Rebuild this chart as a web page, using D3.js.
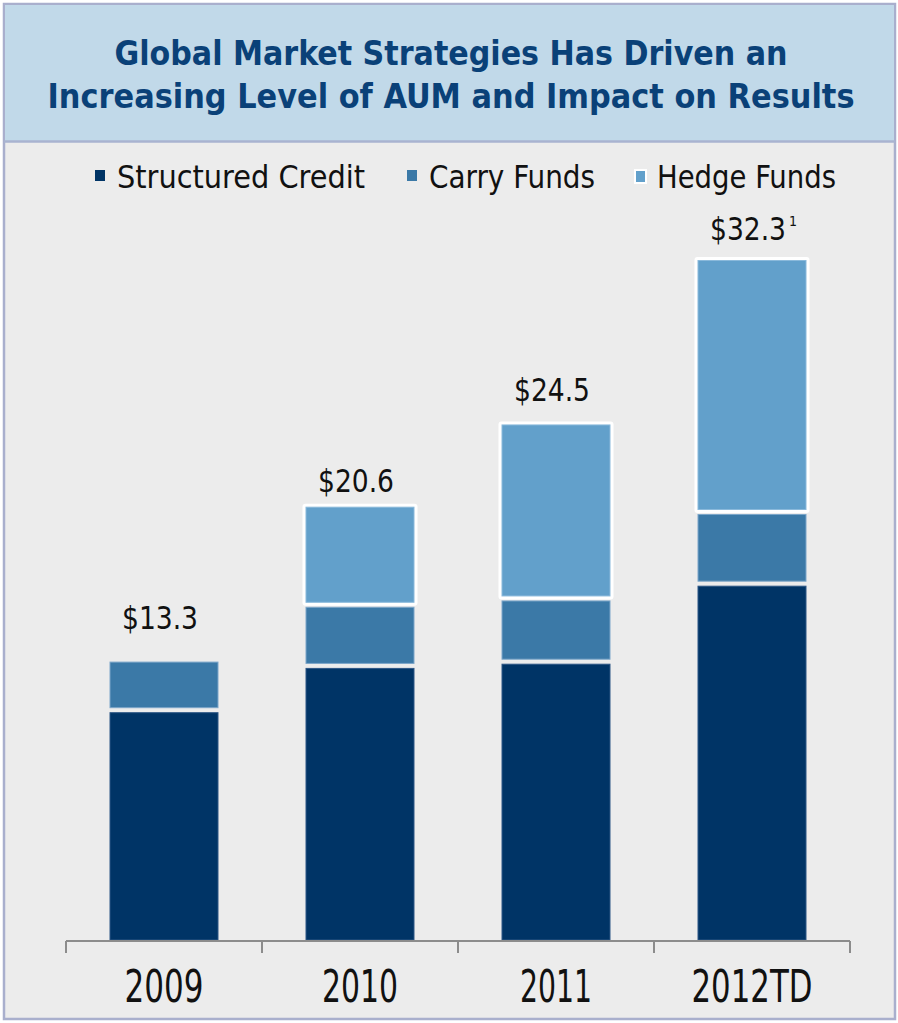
<!DOCTYPE html>
<html>
<head>
<meta charset="utf-8">
<script src="https://cdn.jsdelivr.net/npm/d3@7"></script>
<style>
  body { margin: 0; background: #ffffff; }
  svg { display: block; }
</style>
</head>
<body>
<div id="chart"></div>
<script>
// chart data
var years = ['2009', '2010', '2011', '2012TD'];
var seriesNames = ['Structured Credit', 'Carry Funds', 'Hedge Funds'];
var structuredCredit = [10.9, 13.0, 13.2, 16.9];
var carryFunds = [2.4, 2.9, 3.0, 3.4];
var hedgeFunds = [0, 4.7, 8.3, 12.0];
var totals = [13.3, 20.6, 24.5, 32.3];
var footnotes = ['', '', '', '1'];
var titleLines = [
  'Global Market Strategies Has Driven an',
  'Increasing Level of AUM and Impact on Results'
];

// layout
var svgWidth = 898;
var svgHeight = 1023;
var colors = ['#003466', '#3b79a7', '#62a0cb'];
var labelLift = [31, 14, 22, 19];
var yearWidths = [79, 76, 72, 121];
var barWidth = 108;

var svg = d3.select('#chart')
  .append('svg')
  .attr('width', svgWidth)
  .attr('height', svgHeight);

// panel + title box
svg.append('rect')
  .attr('x', 4).attr('y', 4)
  .attr('width', 891).attr('height', 1015)
  .attr('fill', '#ececec')
  .attr('stroke', '#a9afcd')
  .attr('stroke-width', 2.5);

svg.append('rect')
  .attr('x', 5).attr('y', 5)
  .attr('width', 889).attr('height', 136)
  .attr('fill', '#c1d9e9');

svg.append('line')
  .attr('x1', 4).attr('x2', 895)
  .attr('y1', 141.5).attr('y2', 141.5)
  .attr('stroke', '#a9b3d0')
  .attr('stroke-width', 2.5);

var titleWidths = [673, 807];
svg.selectAll('.title')
  .data(titleLines)
  .enter()
  .append('text')
  .attr('class', 'title')
  .attr('x', 451)
  .attr('y', (d, i) => 65 + i * 43)
  .attr('text-anchor', 'middle')
  .attr('textLength', (d, i) => titleWidths[i])
  .attr('lengthAdjust', 'spacingAndGlyphs')
  .style('font-family', '"DejaVu Sans Condensed", "DejaVu Sans", sans-serif')
  .style('font-weight', 'bold')
  .style('font-size', '34px')
  .style('fill', '#0a4178')
  .text(d => d);

// legend
var legendX = [95, 407, 635];
var legendW = [248, 166, 179];
var legend = svg.selectAll('.legend')
  .data(seriesNames)
  .enter()
  .append('g')
  .attr('class', 'legend')
  .attr('transform', (d, i) => `translate(${legendX[i]}, 176)`);

legend.append('rect')
  .attr('x', 0).attr('y', -6)
  .attr('width', (d, i) => i === 2 ? 11 : 10)
  .attr('height', (d, i) => i === 2 ? 13 : 11)
  .attr('fill', (d, i) => colors[i])
  .attr('stroke', (d, i) => i === 2 ? '#ffffff' : 'none')
  .attr('stroke-width', 2);

legend.append('text')
  .attr('x', 22)
  .attr('y', 12)
  .attr('textLength', (d, i) => legendW[i])
  .attr('lengthAdjust', 'spacingAndGlyphs')
  .style('font-family', '"DejaVu Sans Condensed", "DejaVu Sans", sans-serif')
  .style('font-size', '32px')
  .style('fill', '#111111')
  .text(d => d);

// scales
var x = d3.scaleBand()
  .domain(years)
  .range([66, 850])
  .padding(0);

var y = d3.scaleLinear()
  .domain([0, 32.3])
  .range([940, 259]);

// stacked data
var table = years.map(function (yr, i) {
  return {
    year: yr,
    sc: structuredCredit[i],
    cf: carryFunds[i],
    hf: hedgeFunds[i]
  };
});
var stack = d3.stack().keys(['sc', 'cf', 'hf']);
var layers = stack(table);

var barX = d => x(d.data.year) + (x.bandwidth() - barWidth) / 2;

layers.forEach(function (layer, li) {
  var segs = layer.filter(d => d[1] - d[0] > 0);
  var top = d => y(d[1]) + (li === 2 ? 1.5 : 2.5);
  var bottom = d => y(d[0]) - (li === 0 ? 0 : 2.5);

  if (li === 2) {
    // white frame round hedge fund blocks
    svg.selectAll('.hfback')
      .data(segs)
      .enter()
      .append('rect')
      .attr('class', 'hfback')
      .attr('x', d => barX(d) - 3.5)
      .attr('y', d => top(d) - 3.5)
      .attr('width', barWidth + 7)
      .attr('height', d => bottom(d) - top(d) + 7)
      .attr('rx', 3)
      .attr('fill', '#ffffff');
  }

  svg.selectAll('.seg' + li)
    .data(segs)
    .enter()
    .append('rect')
    .attr('class', 'seg' + li)
    .attr('x', d => barX(d))
    .attr('y', d => top(d))
    .attr('width', barWidth)
    .attr('height', d => bottom(d) - top(d))
    .attr('fill', colors[li])
    .attr('stroke', li === 0 ? '#2d5685' : (li === 1 ? '#7ca6c9' : '#8ab9db'))
    .attr('stroke-width', 1);
});

// total labels (superscript footnote kept in the same text)
var labels = svg.selectAll('.total')
  .data(totals)
  .enter()
  .append('text')
  .attr('class', 'total')
  .attr('x', (d, i) => x(years[i]) + x.bandwidth() / 2 - 42)
  .attr('y', (d, i) => y(d) - labelLift[i])
  .style('font-family', '"DejaVu Sans Condensed", "DejaVu Sans", sans-serif')
  .style('fill', '#111111');

labels.append('tspan')
  .attr('textLength', 76)
  .attr('lengthAdjust', 'spacingAndGlyphs')
  .style('font-size', '32px')
  .text(d => '$' + d.toFixed(1));

labels.append('tspan')
  .attr('dx', 3)
  .attr('dy', -14)
  .style('font-size', '14px')
  .text((d, i) => footnotes[i]);

// x axis
var axisG = svg.append('g')
  .attr('transform', 'translate(0, 941)');

axisG.append('line')
  .attr('x1', x.range()[0]).attr('x2', x.range()[1])
  .attr('y1', 0).attr('y2', 0)
  .attr('stroke', '#8c8c8c')
  .attr('stroke-width', 2);

var tickPos = years.map(d => x(d)).concat([x(years[years.length - 1]) + x.bandwidth()]);
axisG.selectAll('.tick')
  .data(tickPos)
  .enter()
  .append('line')
  .attr('x1', d => d).attr('x2', d => d)
  .attr('y1', 0).attr('y2', 12)
  .attr('stroke', '#8c8c8c')
  .attr('stroke-width', 2);

axisG.selectAll('.xlabel')
  .data(years)
  .enter()
  .append('text')
  .attr('class', 'xlabel')
  .attr('x', d => x(d) + x.bandwidth() / 2)
  .attr('y', 61)
  .attr('text-anchor', 'middle')
  .attr('textLength', (d, i) => yearWidths[i])
  .attr('lengthAdjust', 'spacingAndGlyphs')
  .style('font-family', '"DejaVu Sans Condensed", "DejaVu Sans", sans-serif')
  .style('font-size', '44px')
  .style('fill', '#111111')
  .text(d => d);
</script>
</body>
</html>
